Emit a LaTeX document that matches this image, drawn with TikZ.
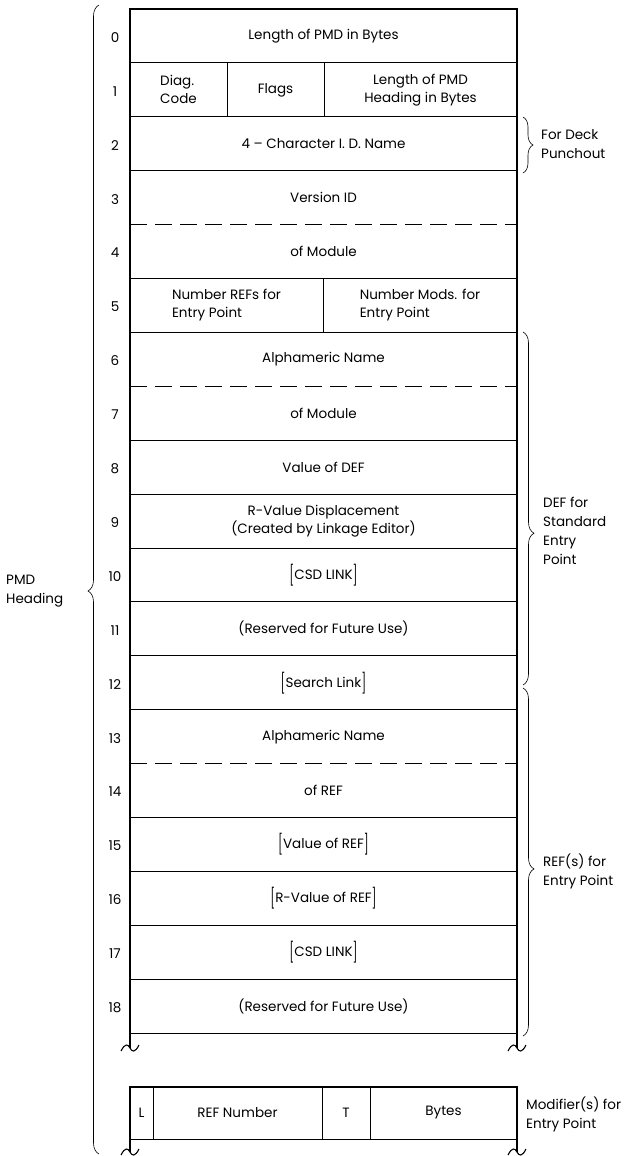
\documentclass[tikz,border=0pt]{standalone}
\usepackage{fontspec}
\usepackage{graphicx}
\setmainfont{Poppins}[FontFace={l}{n}{Poppins Light}]
\usetikzlibrary{decorations.pathreplacing}
\newcommand{\lbk}{\raisebox{-3pt}{\scalebox{1}[1.45]{\fontseries{l}\selectfont [}}}
\newcommand{\rbk}{\raisebox{-3pt}{\scalebox{1}[1.45]{\fontseries{l}\selectfont ]}}}
\begin{document}
\begin{tikzpicture}[x=1pt,y=-1pt,
  txt/.style={font=\fontsize{13.5}{18}\selectfont, inner sep=0pt, align=center},
  ltxt/.style={font=\fontsize{13.5}{18}\selectfont, inner sep=0pt, align=left},
  num/.style={font=\fontsize{13.5}{15}\selectfont, inner sep=0pt},
  side/.style={font=\fontsize{13.5}{19}\selectfont, inner sep=0pt, align=left, anchor=west},
  frame/.style={line width=1.4pt},
  rule/.style={line width=0.9pt},
  dashrule/.style={line width=0.9pt, dash pattern=on 17pt off 8pt},
  thin/.style={line width=0.7pt},
  brc/.style={decorate, decoration={brace, amplitude=#1}, line width=0.6pt},
  wav/.style={line width=1.1pt}
]
\fill[white] (0,0) rectangle (626,1156);
\useasboundingbox (0,0) rectangle (626,1156);

% main frame
\draw[frame] (130,1048) -- (130,9) -- (517,9) -- (517,1048);
\foreach \k in {1,2,3,5,6,8,9,10,11,12,13,15,16,17,18,19}
  \draw[rule] (130,{9+53.9*\k}) -- (517,{9+53.9*\k});
\foreach \k in {4,7,14}
  \draw[dashrule] (130,{9+53.9*\k}) -- (517,{9+53.9*\k});
% row 1 and row 5 dividers
\draw[thin] (227,62.9) -- (227,116.8);
\draw[thin] (324,62.9) -- (324,116.8);
\draw[thin] (323,278.5) -- (323,332.4);

% wavy ends
\foreach \x in {130,517}
  \draw[wav] (\x-9,1051) .. controls (\x-5,1043) and (\x-2,1044) .. (\x,1048)
             .. controls (\x+2,1052) and (\x+5,1053) .. (\x+9,1045);

% row numbers
\foreach \k in {0,...,18}
  \node[num] (n\k) at (115,{9+53.9*(\k+0.5)+1.5}) {\k};

% row texts
\node[txt] (r0) at (323.5,35.95) {Length of PMD in Bytes};
\node[ltxt] (r1a) at (178.5,89.85) {Diag.\\Code};
\node[txt] (r1b) at (275.5,89.85) {Flags};
\node[txt] (r1c) at (420.5,89.85) {Length of PMD\\Heading in Bytes};
\node[txt] (r2) at (323.5,143.75) {4 -- Character I. D. Name};
\node[txt] (r3) at (323.5,197.65) {Version ID};
\node[txt] (r4) at (323.5,251.55) {of Module};
\node[ltxt] (r5a) at (226.5,305.45) {Number REFs for\\Entry Point};
\node[ltxt] (r5b) at (420,305.45) {Number Mods. for\\Entry Point};
\node[txt] (r6) at (323.5,359.35) {Alphameric Name};
\node[txt] (r7) at (323.5,413.25) {of Module};
\node[txt] (r8) at (323.5,467.15) {Value of DEF};
\node[txt] (r9) at (323.5,521.05) {R-Value Displacement\\(Created by Linkage Editor)};
\node[txt] (r10) at (323.5,574.95) {\lbk CSD LINK\rbk};
\node[txt] (r11) at (323.5,628.85) {(Reserved for Future Use)};
\node[txt] (r12) at (323.5,682.75) {\lbk Search Link\rbk};
\node[txt] (r13) at (323.5,736.65) {Alphameric Name};
\node[txt] (r14) at (323.5,790.55) {of REF};
\node[txt] (r15) at (323.5,844.45) {\lbk Value of REF\rbk};
\node[txt] (r16) at (323.5,898.35) {\lbk R-Value of REF\rbk};
\node[txt] (r17) at (323.5,952.25) {\lbk CSD LINK\rbk};
\node[txt] (r18) at (323.5,1006.15) {(Reserved for Future Use)};

% modifier box
\draw[frame] (130,1152) -- (130,1087) -- (517,1087) -- (517,1152);
\draw[rule] (130,1139) -- (517,1139);
\foreach \x in {153,322,370}
  \draw[thin] (\x,1087) -- (\x,1139);
\foreach \x in {130,517}
  \draw[wav] (\x-9,1155) .. controls (\x-5,1147) and (\x-2,1148) .. (\x,1152)
             .. controls (\x+2,1156) and (\x+5,1157) .. (\x+9,1149);
\node[txt] (mL) at (141.5,1113) {L};
\node[txt] (mR) at (237.5,1113) {REF Number};
\node[txt] (mT) at (346,1113) {T};
\node[txt] (mB) at (443.5,1113) {Bytes};

% braces
\draw[brc=11pt, decoration={aspect=0.49}] (99,1154) -- (99,5);
\draw[brc=10pt] (523,117) -- (523,173);
\draw[brc=11pt, decoration={aspect=0.57}] (523,332) -- (523,685);
\draw[brc=11pt, decoration={aspect=0.52}] (523,688) -- (523,1036);

% side labels
\node[side] (lpmd) at (6,591) {PMD\\Heading};
\node[side] (ldeck) at (541,144) {For Deck\\Punchout};
\node[side] (ldef) at (543,531) {DEF for\\Standard\\Entry\\Point};
\node[side] (lref) at (543,871) {REF(s) for\\Entry Point};
\node[side] (lmod) at (526,1114) {Modifier(s) for\\Entry Point};
\end{tikzpicture}
\end{document}
